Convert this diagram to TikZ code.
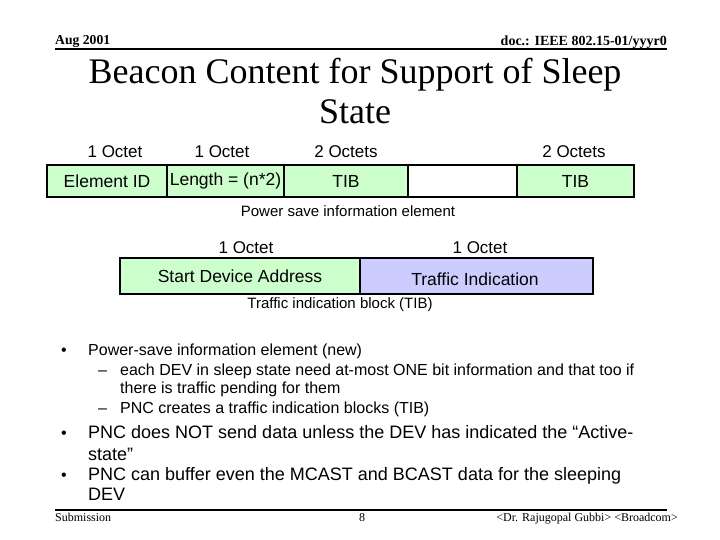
\documentclass[tikz,border=0pt]{standalone}
\usepackage{fontspec}
\setmainfont{Liberation Serif}
\setsansfont{Liberation Sans}
\definecolor{fgreen}{HTML}{CCFFCC}
\definecolor{fblue}{HTML}{CCCCFF}
\begin{document}
\begin{tikzpicture}[x=1pt,y=-1pt,
  fld/.style={draw=black,line width=1.5pt,minimum height=32pt,inner sep=0pt,font=\sffamily\fontsize{17.5}{20}\selectfont},
  oct/.style={font=\sffamily\fontsize{17}{20}\selectfont,inner sep=0pt},
  captxt/.style={font=\sffamily\fontsize{15}{18}\selectfont,inner sep=0pt},
  hdr/.style={font=\rmfamily\bfseries\fontsize{14}{16}\selectfont,inner sep=0pt},
  ftr/.style={font=\rmfamily\fontsize{12}{14}\selectfont,inner sep=0pt},
  btxt/.style={font=\sffamily\fontsize{16}{19}\selectfont,inner sep=0pt,anchor=base west},
  bbig/.style={font=\sffamily\fontsize{18}{21}\selectfont,inner sep=0pt,anchor=base west}]
\useasboundingbox (0,0) rectangle (720,540);
% header
\node[hdr,anchor=base west] (hl) at (55,45) {\resizebox{55pt}{!}{Aug 2001}};
\node[hdr,anchor=base east] (hr) at (667,46) {doc.: IEEE 802.15-01/yyyr0};
\draw[line width=2pt] (55,49) -- (667,49);
% title
\node[font=\rmfamily\fontsize{36}{40}\selectfont,inner sep=0pt,anchor=base] (t1) at (355,84) {Beacon Content for Support of Sleep};
\node[font=\rmfamily\fontsize{36}{40}\selectfont,inner sep=0pt,anchor=base] (t2) at (355,124) {State};
% row 1
\node[oct,anchor=base] (o1) at (115,158) {1 Octet};
\node[oct,anchor=base] (o2) at (222,158) {1 Octet};
\node[oct,anchor=base] (o3) at (346,158) {2 Octets};
\node[oct,anchor=base] (o5) at (574,158) {2 Octets};
\node[fld,fill=fgreen,minimum width=120pt] (b1) at (107,181) {Element ID};
\node[fld,fill=fgreen,minimum width=117pt] (b2) at (225.5,181) {Length = (n*2)};
\node[fld,fill=fgreen,minimum width=124pt] (b3) at (346,181) {TIB};
\node[fld,fill=white,minimum width=109pt] (b4) at (462.5,181) {};
\node[fld,fill=fgreen,minimum width=117pt] (b5) at (575.5,181) {TIB};
\node[captxt] (c1) at (348,211) {Power save information element};
% row 2
\node[oct,anchor=base] (p1) at (246,254) {1 Octet};
\node[oct,anchor=base] (p2) at (480,254) {1 Octet};
\node[fld,fill=fgreen,minimum width=240pt,minimum height=36pt] (s1) at (240,276) {Start Device Address};
\node[fld,fill=fblue,minimum width=233pt,minimum height=36pt] (s2) at (476.5,276) {};
\node[fld,draw=none,anchor=base] (s2t) at (475,285) {Traffic Indication};
\node[captxt] (c2) at (340,305) {Traffic indication block (TIB)};
% bullets
\node[btxt] (d1) at (61,355) {•};
\node[btxt] (l1) at (88,355) {Power-save information element (new)};
\node[btxt] (e1) at (98,375) {–};
\node[btxt] (l2) at (120,375) {each DEV in sleep state need at-most ONE bit information and that too if};
\node[btxt] (l3) at (120,393) {there is traffic pending for them};
\node[btxt] (e2) at (98,413) {–};
\node[btxt] (l4) at (120,413) {PNC creates a traffic indication blocks (TIB)};
\node[btxt] (d2) at (61,438) {•};
\node[bbig] (l5) at (88,438) {PNC does NOT send data unless the DEV has indicated the “Active-};
\node[bbig] (l6) at (88,460) {state”};
\node[btxt] (d3) at (61,480) {•};
\node[bbig] (l7) at (88,480) {PNC can buffer even the MCAST and BCAST data for the sleeping};
\node[bbig] (l8) at (88,500) {DEV};
% footer
\draw[line width=2pt] (55,510) -- (667,510);
\node[ftr,anchor=base west] (f1) at (55,521) {Submission};
\node[ftr,anchor=base] (f2) at (362,521) {8};
\node[ftr,anchor=base east] (f3) at (678,521) {<Dr. Rajugopal Gubbi> <Broadcom>};
\end{tikzpicture}
\end{document}
